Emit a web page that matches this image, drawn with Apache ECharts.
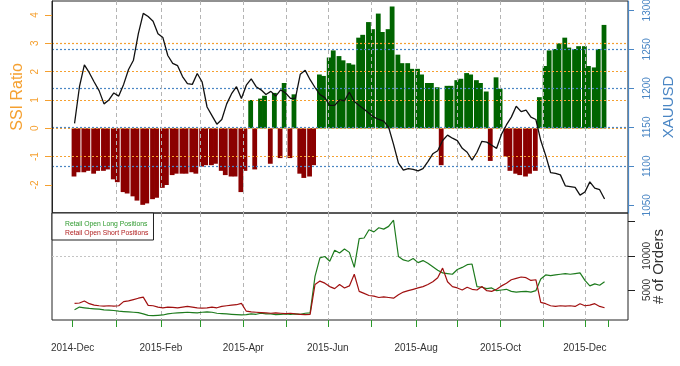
<!DOCTYPE html>
<html><head><meta charset="utf-8">
<script src="https://cdn.jsdelivr.net/npm/echarts@6/dist/echarts.min.js"></script>
<style>html,body{margin:0;padding:0;background:#fff}#c{width:680px;height:366px}</style>
</head><body><div id="c"></div>
<script>
// Trading-day index of each month start (x axis ticks) and labelled ticks
const monthTicks = [0, 22, 45, 65, 87, 109, 130, 152, 175, 196, 218, 240, 261, 273];
const labelTicks = [0, 45, 87, 130, 175, 218, 261];
const tickLabels = ['2014-Dec', '2015-Feb', '2015-Apr', '2015-Jun', '2015-Aug', '2015-Oct', '2015-Dec'];
const ssiTicks = [-2, -1, 0, 1, 2, 3, 4];
const goldTicks = [1050, 1100, 1150, 1200, 1250, 1300];
const orderTicks = [5000, 10000, 15000];
const orderLabelTicks = [5000, 10000];

// Half-week samples (two per trading week, starting 2014-12-01)
const ssi = [
 -1.7, -1.55, -1.55, -1.5, -1.6, -1.5, -1.5, -1.45, -1.8, -1.9,
 -2.25, -2.3, -2.4, -2.55, -2.7, -2.65, -2.5, -2.45, -2.1, -2.0,
 -1.65, -1.6, -1.6, -1.6, -1.55, -1.6, -1.35, -1.3, -1.3, -1.25,
 -1.5, -1.65, -1.7, -1.7, -2.25, -1.5, 1.0, -1.45, 1.05, 1.15,
 -1.25, 1.25, -1.05, 1.6, -1.05, 1.2, -1.6, -1.75, -1.7, -1.3,
 1.9, 1.85, 2.5, 2.75, 2.55, 2.4, 2.3, 2.25, 3.2, 3.3,
 3.75, 3.5, 4.05, 3.4, 3.5, 4.3, 2.6, 2.3, 2.3, 2.1,
 2.1, 1.9, 1.6, 1.6, 1.45, -1.3, 1.5, 1.5, 1.7, 1.75,
 1.95, 1.9, 1.7, 1.6, 1.3, -1.15, 1.8, 1.4, -1.0, -1.5,
 -1.6, -1.65, -1.7, -1.6, -1.5, 1.1, 2.2, 2.75, 2.8, 3.0,
 3.2, 2.85, 2.8, 2.9, 2.9, 2.2, 2.15, 2.8, 3.65
];
const xauusd = [
 1155, 1202, 1230, 1220, 1208, 1197, 1180, 1185, 1194, 1190,
 1205, 1224, 1236, 1270, 1296, 1292, 1286, 1270, 1265, 1242,
 1232, 1229, 1215, 1206, 1205, 1219, 1208, 1176, 1165, 1154,
 1160, 1180, 1193, 1202, 1187, 1204, 1212, 1202, 1198, 1192,
 1196, 1190, 1198, 1194, 1187, 1187, 1218, 1223, 1211, 1201,
 1192, 1188, 1178, 1178, 1185, 1184, 1195, 1183, 1178, 1173,
 1168, 1163, 1160, 1158, 1150, 1128, 1104, 1095, 1097, 1096,
 1094, 1097, 1106, 1116, 1120, 1133, 1140, 1136, 1133, 1123,
 1118, 1108, 1118, 1132, 1131, 1127, 1123, 1141, 1153, 1163,
 1177, 1170, 1172, 1163, 1160, 1133, 1114, 1092, 1091, 1089,
 1075, 1074, 1073, 1063, 1067, 1080, 1072, 1070, 1058
];
const longOrders = [
 2100, 2500, 2400, 2300, 2250, 2200, 2100, 2050, 2000, 1900,
 1850, 1800, 1750, 1700, 1500, 1300, 1250, 1300, 1350, 1500,
 1600, 1650, 1700, 1750, 1700, 1650, 1750, 1800, 1750, 1600,
 1550, 1500, 1450, 1400, 1350, 1400, 1500, 1450, 1600, 1500,
 1500, 1400, 1450, 1500, 1450, 1500, 1450, 1600, 1650, 7000,
 9700, 9900, 9200, 10800, 10400, 11000, 10500, 8300, 12500, 12600,
 13800, 13500, 14100, 13900, 14300, 15200, 9900, 9400, 9200, 9600,
 9000, 9300, 8900, 8400, 7900, 7500, 7400, 7300, 8000, 8300,
 8700, 8800, 5500, 5400, 5200, 5300, 4900, 5000, 5100, 4800,
 4700, 4750, 4800, 4700, 4900, 6600, 7200, 7100, 7200, 7300,
 7400, 7300, 7400, 7500, 6400, 5600, 5900, 5700, 6200
];
const shortOrders = [
 3050, 3100, 3400, 3000, 2800, 2700, 2650, 2700, 2650, 2700,
 3300, 3400, 3600, 3800, 3950, 2750, 2700, 2500, 2400, 2500,
 2450, 2400, 2500, 2600, 2500, 2400, 2350, 2400, 2500, 2400,
 2600, 2700, 2800, 2850, 3050, 1900, 1800, 1750, 1700, 1650,
 1600, 1650, 1600, 1550, 1600, 1500, 1450, 1400, 1450, 5800,
 6300, 6000, 5500, 5200, 5800, 5300, 5600, 7300, 4800, 4500,
 4200, 4100, 3900, 4000, 3900, 3800, 4300, 4700, 4900, 5100,
 5300, 5500, 5800, 6200, 6800, 8200, 6200, 5500, 5300, 5000,
 5400, 5100, 5000, 5500, 4900, 4800, 5100, 5600, 6000, 6500,
 6700, 6900, 6800, 6400, 6500, 3200, 3000, 2700, 2600, 2700,
 2650, 2700, 2600, 3000, 2700, 2800, 3000, 2600, 2400
];

const FONT = "'Liberation Sans', Arial, sans-serif";
const ORANGE = '#f5a030';
const BLUE = '#4a86c4';
const GREEN_BAR = '#006400';
const RED_BAR = '#8b0000';
const GRIDGRAY = '#b4b4b4';

// x position (trading-day units) of each half-week sample
const halfX = i => 5 * Math.floor(i / 2) + (i % 2 ? 2.78 : 0.72);
const lineX = i => 2.5 * i + 1;
const plain = v => String(v);

const xMin = -10.49, xMax = 282.94;
const vSplit = color => ({show: true, showMinLine: false, showMaxLine: false,
  lineStyle: {color: color, type: [4, 3], width: 1}});
const hSplit = (color, w) => ({show: true, showMinLine: false, showMaxLine: false,
  lineStyle: {color: color, type: [2, 2], width: w}});

const chart = echarts.init(document.getElementById('c'), null, {renderer: 'canvas'});
chart.setOption({
  animation: false,
  textStyle: {fontFamily: FONT},
  grid: [
    {left: 52, top: 1, width: 576, height: 212, show: true, borderColor: '#222', borderWidth: 1,
     backgroundColor: 'transparent', containLabel: false, outerBoundsMode: 'none'},
    {left: 52, top: 213, width: 576, height: 107, show: true, borderColor: '#222', borderWidth: 1,
     backgroundColor: 'transparent', containLabel: false, outerBoundsMode: 'none'}
  ],
  legend: {
    left: 52, top: 213, orient: 'vertical', icon: 'none', itemWidth: 1, itemHeight: 8, itemGap: 1,
    padding: [7, 5, 3, 7], backgroundColor: '#fff', borderColor: '#222', borderWidth: 1,
    selectedMode: false, z: 10,
    textStyle: {fontSize: 6.8, lineHeight: 8, fontFamily: FONT},
    data: [
      {name: 'Retail Open Long Positions', textStyle: {color: '#2e9a2e'}},
      {name: 'Retail Open Short Positions', textStyle: {color: '#b01c1c'}}
    ]
  },
  xAxis: [
    {type: 'value', gridIndex: 0, min: xMin, max: xMax, z: 3,
     axisLine: {show: false, onZero: false}, axisTick: {show: false, customValues: monthTicks}, axisLabel: {show: false},
     splitLine: vSplit(GRIDGRAY)},
    {type: 'value', gridIndex: 1, min: xMin, max: xMax, z: 3,
     axisLine: {show: false, onZero: false},
     axisTick: {show: true, length: 7, customValues: monthTicks, lineStyle: {color: '#2a9a2a'}},
     axisLabel: {show: true, customValues: labelTicks, margin: 23, fontSize: 10, color: '#333',
       formatter: v => tickLabels[labelTicks.indexOf(v)] || ''},
     splitLine: vSplit(GRIDGRAY)}
  ],
  yAxis: [
    {type: 'value', gridIndex: 0, position: 'left', min: -2.988, max: 4.494, z: 3,
     axisLine: {show: true, onZero: false, lineStyle: {color: '#222'}},
     axisTick: {show: true, length: 7, customValues: ssiTicks, lineStyle: {color: ORANGE}},
     axisLabel: {customValues: ssiTicks, rotate: 90, color: ORANGE, fontSize: 10, margin: 12, formatter: plain},
     splitLine: hSplit(ORANGE, 1.2),
     name: 'SSI Ratio', nameLocation: 'middle', nameGap: 26, nameRotate: 90, nameMoveOverlap: false,
     nameTextStyle: {color: ORANGE, fontSize: 16, padding: [0, 0, 0, 20]}},
    {type: 'value', gridIndex: 0, position: 'right', min: 1040.1, max: 1311.9, z: 3,
     axisLine: {show: true, onZero: false, lineStyle: {color: BLUE, width: 1.2}},
     axisTick: {show: true, length: 6, customValues: goldTicks, lineStyle: {color: BLUE}},
     axisLabel: {customValues: goldTicks, rotate: 90, color: BLUE, fontSize: 10, margin: 14, formatter: plain},
     splitLine: hSplit(BLUE, 1.2),
     name: 'XAUUSD', nameLocation: 'middle', nameGap: 33, nameRotate: 90, nameMoveOverlap: false,
     nameTextStyle: {color: BLUE, fontSize: 15}},
    {type: 'value', gridIndex: 1, position: 'right', min: 614, max: 16257, z: 3,
     axisLine: {show: false, onZero: false},
     axisTick: {show: true, length: 7, customValues: orderTicks, lineStyle: {color: '#222'}},
     axisLabel: {customValues: orderLabelTicks, rotate: 90, color: '#333', fontSize: 10, margin: 14, formatter: plain},
     splitLine: hSplit('#c4c4c4', 1),
     name: '# of Orders', nameLocation: 'middle', nameGap: 23, nameRotate: 90, nameMoveOverlap: false,
     nameTextStyle: {color: '#333', fontSize: 15}}
  ],
  series: [
    {type: 'bar', name: 'SSI', xAxisIndex: 0, yAxisIndex: 0, barWidth: 4.8, z: 2,
     data: ssi.map((v, i) => [halfX(i), v]),
     itemStyle: {color: p => (p.value[1] >= 0 ? GREEN_BAR : RED_BAR)}},
    {type: 'line', name: 'XAUUSD', xAxisIndex: 0, yAxisIndex: 1, z: 5, symbol: 'none',
     lineStyle: {color: '#111', width: 1.3},
     data: xauusd.map((v, i) => [lineX(i), v])},
    {type: 'line', name: 'Retail Open Long Positions', xAxisIndex: 1, yAxisIndex: 2, z: 4, symbol: 'none',
     lineStyle: {color: '#1e7b1e', width: 1.2}, itemStyle: {color: '#1e7b1e'},
     data: longOrders.map((v, i) => [lineX(i), v])},
    {type: 'line', name: 'Retail Open Short Positions', xAxisIndex: 1, yAxisIndex: 2, z: 4, symbol: 'none',
     lineStyle: {color: '#a01010', width: 1.2}, itemStyle: {color: '#a01010'},
     data: shortOrders.map((v, i) => [lineX(i), v])}
  ]
});
</script></body></html>
